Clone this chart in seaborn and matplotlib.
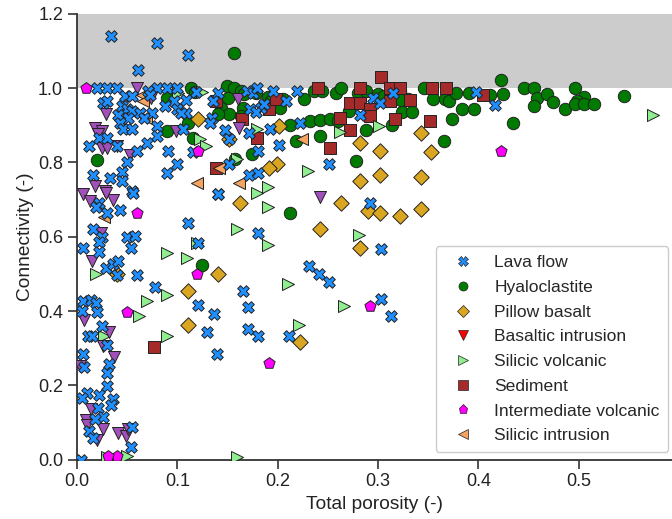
import numpy as np
import pandas as pd
import matplotlib
matplotlib.use("Agg")
import matplotlib.pyplot as plt
from matplotlib.lines import Line2D
import seaborn as sns

# ---------------- data ----------------
lava_x = [0.034, 0.080, 0.111, 0.061, 0.020, 0.030, 0.040, 0.071, 0.080, 0.090, 0.100, 0.119, 0.141,
          0.169, 0.175, 0.179, 0.195, 0.219, 0.315, 0.295, 0.302, 0.398, 0.417, 0.282, 0.136, 0.026,
          0.030, 0.048, 0.055, 0.073, 0.097, 0.109, 0.100, 0.109, 0.045, 0.050, 0.055, 0.041, 0.051,
          0.043, 0.046, 0.055, 0.063, 0.075, 0.067, 0.088, 0.104, 0.022, 0.030, 0.012, 0.040, 0.080,
          0.080, 0.070, 0.060, 0.050, 0.045, 0.033, 0.016, 0.045, 0.055, 0.022, 0.106, 0.091, 0.100,
          0.090, 0.116, 0.135, 0.147, 0.151, 0.171, 0.151, 0.171, 0.141, 0.172, 0.183, 0.178, 0.208,
          0.186, 0.222, 0.192, 0.133, 0.201, 0.180, 0.180, 0.251, 0.292, 0.180, 0.019, 0.030, 0.043,
          0.056, 0.016, 0.025, 0.022, 0.022, 0.006, 0.050, 0.058, 0.054, 0.029, 0.036, 0.041, 0.040,
          0.060, 0.078, 0.111, 0.121, 0.141, 0.006, 0.014, 0.019, 0.005, 0.020, 0.025, 0.011, 0.015,
          0.030, 0.006, 0.032, 0.007, 0.030, 0.030, 0.010, 0.005, 0.022, 0.036, 0.034, 0.021, 0.026,
          0.018, 0.012, 0.016, 0.055, 0.054, 0.004, 0.121, 0.137, 0.130, 0.140, 0.165, 0.170, 0.170,
          0.180, 0.211, 0.231, 0.241, 0.251, 0.303, 0.303, 0.313]
lava_y = [1.141, 1.122, 1.090, 1.050, 1.000, 1.000, 1.000, 0.993, 1.000, 1.000, 1.000, 0.991, 0.988,
          0.993, 0.988, 1.001, 0.993, 0.993, 0.988, 0.974, 0.961, 0.991, 0.955, 0.929, 0.966, 0.961,
          0.966, 0.980, 0.980, 0.982, 0.966, 0.969, 0.944, 0.934, 0.953, 0.944, 0.939, 0.929, 0.921,
          0.907, 0.891, 0.891, 0.934, 0.934, 0.921, 0.953, 0.934, 0.867, 0.867, 0.845, 0.845, 0.899,
          0.872, 0.853, 0.832, 0.800, 0.775, 0.757, 0.765, 0.751, 0.724, 0.690, 0.891, 0.832, 0.797,
          0.773, 0.827, 0.921, 0.888, 0.864, 0.880, 0.797, 0.765, 0.716, 0.944, 0.947, 0.937, 0.966,
          0.958, 0.907, 0.891, 0.907, 0.848, 0.832, 0.773, 0.797, 0.690, 0.609, 0.681, 0.665, 0.673,
          0.719, 0.622, 0.598, 0.585, 0.560, 0.569, 0.598, 0.601, 0.571, 0.515, 0.526, 0.534, 0.496,
          0.496, 0.464, 0.636, 0.582, 0.714, 0.426, 0.429, 0.421, 0.399, 0.397, 0.359, 0.332, 0.332,
          0.308, 0.284, 0.257, 0.249, 0.233, 0.198, 0.179, 0.165, 0.173, 0.163, 0.147, 0.138, 0.114,
          0.109, 0.077, 0.058, 0.087, 0.034, 0.000, 0.415, 0.391, 0.343, 0.284, 0.453, 0.410, 0.351,
          0.332, 0.332, 0.520, 0.499, 0.477, 0.566, 0.431, 0.386]

hyalo_x = [0.156, 0.423, 0.114, 0.118, 0.149, 0.156, 0.163, 0.166, 0.090, 0.150, 0.144, 0.165, 0.151,
           0.178, 0.190, 0.193, 0.205, 0.202, 0.191, 0.163, 0.141, 0.226, 0.236, 0.244, 0.258, 0.263,
           0.280, 0.288, 0.300, 0.306, 0.322, 0.330, 0.323, 0.346, 0.355, 0.367, 0.371, 0.378, 0.391,
           0.412, 0.425, 0.445, 0.455, 0.458, 0.468, 0.474, 0.455, 0.486, 0.496, 0.505, 0.498, 0.496,
           0.505, 0.515, 0.545, 0.384, 0.396, 0.374, 0.435, 0.366, 0.271, 0.324, 0.334, 0.314, 0.288,
           0.278, 0.242, 0.218, 0.212, 0.212, 0.232, 0.242, 0.252, 0.260, 0.090, 0.116, 0.111, 0.020,
           0.174, 0.157, 0.125]
hyalo_y = [1.095, 1.023, 1.000, 0.991, 1.007, 1.000, 0.993, 0.985, 0.974, 0.974, 0.947, 0.947, 0.931,
           0.988, 0.977, 0.966, 0.972, 0.947, 0.953, 0.926, 0.931, 0.972, 0.993, 0.993, 0.988, 1.000,
           0.988, 0.993, 0.985, 0.980, 0.993, 0.972, 0.969, 1.000, 0.972, 0.972, 0.966, 0.988, 0.988,
           0.982, 0.985, 1.000, 1.000, 0.974, 0.985, 0.964, 0.953, 0.944, 1.000, 0.977, 0.966, 0.958,
           0.958, 0.958, 0.980, 0.944, 0.944, 0.918, 0.905, 0.859, 0.939, 0.937, 0.937, 0.902, 0.888,
           0.805, 0.872, 0.859, 0.665, 0.902, 0.913, 0.915, 0.918, 0.913, 0.886, 0.867, 0.907, 0.808,
           0.824, 0.810, 0.523]

pillow_x = [0.121, 0.201, 0.199, 0.191, 0.162, 0.151, 0.040, 0.282, 0.302, 0.343, 0.353, 0.282, 0.302,
            0.343, 0.263, 0.290, 0.302, 0.322, 0.343, 0.242, 0.282, 0.222, 0.141, 0.111, 0.111]
pillow_y = [0.918, 0.899, 0.797, 0.786, 0.692, 0.864, 0.499, 0.853, 0.832, 0.880, 0.827, 0.749, 0.765,
            0.762, 0.690, 0.668, 0.665, 0.655, 0.676, 0.622, 0.569, 0.316, 0.499, 0.453, 0.362]

basint_x = [0.060, 0.074, 0.029, 0.018, 0.025, 0.021, 0.025, 0.030, 0.040, 0.053, 0.018, 0.028, 0.006,
            0.013, 0.036, 0.099, 0.161, 0.160, 0.242, 0.029, 0.024, 0.015, 0.007, 0.032, 0.026, 0.037,
            0.003, 0.014, 0.009, 0.026, 0.041, 0.049, 0.051, 0.020, 0.010]
basint_y = [1.000, 0.974, 0.931, 0.894, 0.886, 0.878, 0.840, 0.840, 0.845, 0.819, 0.738, 0.724, 0.716,
            0.695, 0.698, 0.886, 0.894, 0.972, 0.708, 0.719, 0.609, 0.534, 0.375, 0.343, 0.305, 0.276,
            0.251, 0.136, 0.106, 0.082, 0.071, 0.063, 0.082, 0.052, 0.093]

silvol_x = [0.101, 0.125, 0.123, 0.129, 0.179, 0.159, 0.179, 0.190, 0.230, 0.262, 0.301, 0.190, 0.190,
            0.210, 0.266, 0.221, 0.281, 0.019, 0.120, 0.090, 0.110, 0.070, 0.090, 0.062, 0.090, 0.027,
            0.159, 0.050, 0.030, 0.574, 0.159]
silvol_y = [0.988, 0.991, 0.864, 0.845, 0.891, 0.810, 0.719, 0.733, 0.778, 0.883, 0.897, 0.681, 0.577,
            0.474, 0.413, 0.362, 0.606, 0.499, 0.582, 0.555, 0.544, 0.426, 0.442, 0.386, 0.332, 0.332,
            0.007, 0.009, 0.007, 0.929, 0.622]

sed_x = [0.303, 0.139, 0.179, 0.139, 0.164, 0.191, 0.198, 0.240, 0.282, 0.272, 0.282, 0.292, 0.292,
         0.312, 0.322, 0.312, 0.332, 0.354, 0.368, 0.262, 0.317, 0.272, 0.352, 0.252, 0.077, 0.405]
sed_y = [1.031, 0.966, 0.867, 0.784, 0.918, 0.944, 0.972, 1.000, 1.001, 0.961, 0.961, 0.944, 0.926,
         1.000, 1.000, 0.966, 0.969, 1.000, 1.000, 0.921, 0.918, 0.888, 0.913, 0.840, 0.302, 0.982]

intvol_x = [0.009, 0.121, 0.060, 0.050, 0.120, 0.292, 0.191, 0.423, 0.040, 0.031]
intvol_y = [1.000, 0.832, 0.663, 0.397, 0.499, 0.413, 0.259, 0.832, 0.009, 0.009]

silint_x = [0.065, 0.066, 0.069, 0.027, 0.120, 0.142, 0.224, 0.161]
silint_y = [0.982, 0.966, 0.921, 0.652, 0.746, 0.784, 0.862, 0.746]

labels = ["Lava flow", "Hyaloclastite", "Pillow basalt", "Basaltic intrusion",
          "Silicic volcanic", "Sediment", "Intermediate volcanic", "Silicic intrusion"]
xticks = [0.0, 0.1, 0.2, 0.3, 0.4, 0.5]
yticks = [0.0, 0.2, 0.4, 0.6, 0.8, 1.0, 1.2]

# ---------------- styling ----------------
sns.set_theme(style="ticks")
plt.rcParams["font.family"] = ["Liberation Sans", "DejaVu Sans"]
plt.rcParams["font.size"] = 12

series = {
    "Lava flow": (lava_x, lava_y),
    "Hyaloclastite": (hyalo_x, hyalo_y),
    "Pillow basalt": (pillow_x, pillow_y),
    "Basaltic intrusion": (basint_x, basint_y),
    "Silicic volcanic": (silvol_x, silvol_y),
    "Sediment": (sed_x, sed_y),
    "Intermediate volcanic": (intvol_x, intvol_y),
    "Silicic intrusion": (silint_x, silint_y),
}
markers = {"Lava flow": "X", "Hyaloclastite": "o", "Pillow basalt": "D",
           "Basaltic intrusion": "v", "Silicic volcanic": ">", "Sediment": "s",
           "Intermediate volcanic": "p", "Silicic intrusion": "<"}
colors = {"Lava flow": "#1E8FFF", "Hyaloclastite": "#007A00", "Pillow basalt": "#DAA520",
          "Basaltic intrusion": "#A050B8", "Silicic volcanic": "#90EE90", "Sediment": "#A52A2A",
          "Intermediate volcanic": "#FF00FF", "Silicic intrusion": "#F4A460"}
legend_colors = dict(colors)
legend_colors["Basaltic intrusion"] = "#FF0000"
sizes = {"Lava flow": 70, "Hyaloclastite": 80, "Pillow basalt": 62, "Basaltic intrusion": 75,
         "Silicic volcanic": 75, "Sediment": 68, "Intermediate volcanic": 72, "Silicic intrusion": 75}

frames = []
for lab in labels:
    xs, ys = series[lab]
    frames.append(pd.DataFrame({"porosity": xs, "connectivity": ys, "type": lab}))
df = pd.concat(frames, ignore_index=True)

fig = plt.figure(figsize=(6.72, 5.19), dpi=100)
ax = fig.add_axes([0.1146, 0.1146, 0.8854, 0.8585])

ax.axhspan(1.0, 1.2, color="#CCCCCC", zorder=0, lw=0)

draw_order = ["Hyaloclastite", "Sediment", "Pillow basalt", "Silicic volcanic",
              "Basaltic intrusion", "Silicic intrusion", "Lava flow", "Intermediate volcanic"]
for lab in draw_order:
    sub = df[df["type"] == lab]
    sns.scatterplot(data=sub, x="porosity", y="connectivity", ax=ax,
                    marker=markers[lab], color=colors[lab], s=sizes[lab],
                    edgecolor="#222222", linewidth=0.7, legend=False, zorder=3)

ax.set_xlim(0, 0.593)
ax.set_ylim(0, 1.2)
ax.set_xticks(xticks)
ax.set_yticks(yticks)
ax.set_xticklabels([f"{t:.1f}" for t in xticks])
ax.set_yticklabels([f"{t:.1f}" for t in yticks])
ax.tick_params(axis="both", labelsize=13, length=6.5, width=1.2, pad=3.5,
               color="#333333", labelcolor="#222222")
for sp in ["left", "bottom"]:
    ax.spines[sp].set_linewidth(1.3)
    ax.spines[sp].set_color("#333333")
sns.despine(ax=ax)
ax.set_xlabel("Total porosity (-)", fontsize=13.8, color="#222222", labelpad=4)
ax.set_ylabel("Connectivity (-)", fontsize=13.8, color="#222222", labelpad=3)

handles = [Line2D([], [], linestyle="none", marker=markers[l], color=legend_colors[l],
                  markeredgecolor="#222222", markeredgewidth=0.5, markersize=6.5)
           for l in labels]
leg = fig.legend(handles, labels, loc="lower left", bbox_to_anchor=(0.6488, 0.1291),
                 bbox_transform=fig.transFigure, fontsize=12.6, frameon=True,
                 labelspacing=0.54, handlelength=2.1, handletextpad=0.73,
                 borderpad=0.5, borderaxespad=0.0)
leg.get_frame().set_edgecolor("#CCCCCC")
leg.get_frame().set_facecolor("white")
leg.get_frame().set_alpha(1.0)

fig.savefig("out.png", dpi=100)
